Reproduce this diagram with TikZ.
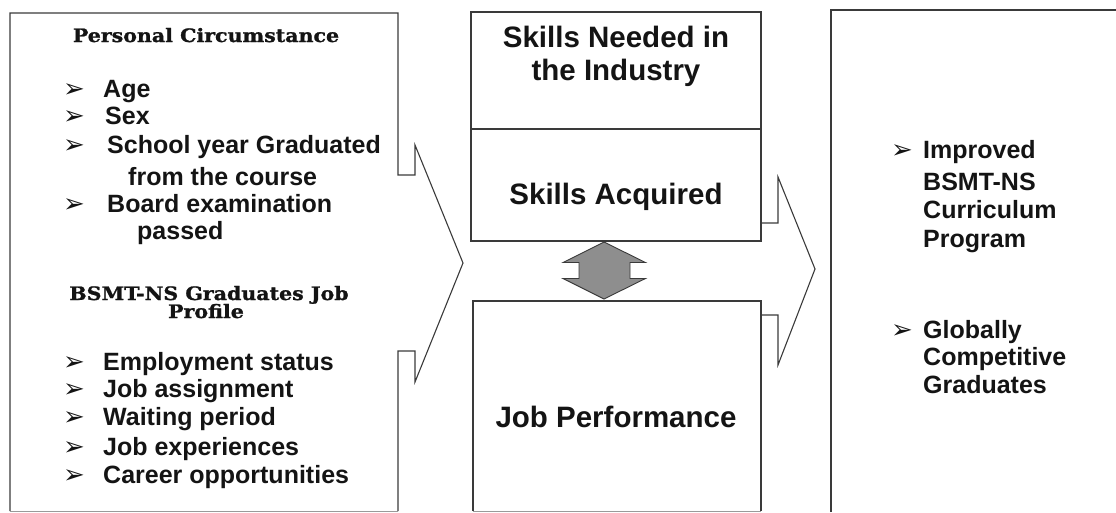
\documentclass[tikz,border=0pt]{standalone}
\usepackage{fontspec}
\setmainfont{Liberation Sans}
\newfontfamily\headfont[FakeStretch=1.11, BoldFeatures={FakeBold=1.2}]{DejaVu Serif}
\newfontfamily\bulletfont{DejaVu Sans}
\definecolor{linegray}{HTML}{3A3A3A}
\definecolor{edgegray}{HTML}{9A9A9A}
\definecolor{arrowfill}{HTML}{8E8E8E}
\definecolor{inktext}{HTML}{141414}
\begin{document}
\begin{tikzpicture}[x=1pt,y=-1pt,
  frame/.style={draw=linegray, line width=1.1pt, line join=miter},
  item/.style={anchor=base west, inner sep=0pt, text=inktext,
    font=\fontsize{25}{29}\selectfont\bfseries},
  bul/.style={anchor=base west, inner sep=0pt, text=inktext,
    font=\bulletfont\fontsize{26}{26}\selectfont},
  head/.style={anchor=base, inner sep=0pt, text=inktext,
    font=\headfont\fontsize{18.5}{20}\selectfont\bfseries},
  midtext/.style={anchor=base, inner sep=0pt, text=inktext,
    font=\fontsize{29.5}{33}\selectfont\bfseries},
]
\useasboundingbox (0,0) rectangle (1116,512);

% ---- input panel with its notched arrow ----
\draw[frame] (10,511) -- (10,13) -- (398,13) -- (398,175) -- (415,175)
  -- (415,145) -- (463,263) -- (415,382) -- (415,351) -- (398,351) -- (398,511);
\draw[edgegray, line width=1pt] (10,511) -- (398,511);

\node[head] (pchead) at (206,42) {Personal Circumstance};
\node[bul] (b1) at (63,97) {➢};
\node[item] (age) at (103,97) {Age};
\node[bul] (b2) at (63,124) {➢};
\node[item] (sex) at (105,124) {Sex};
\node[bul] (b3) at (63,153) {➢};
\node[item] (syg) at (107,153) {School year Graduated};
\node[item] (syg2) at (128,185) {from the course};
\node[bul] (b4) at (63,212) {➢};
\node[item] (board) at (107,212) {Board examination};
\node[item] (board2) at (137,239) {passed};

\node[head] (jphead) at (209,300) {BSMT-NS Graduates Job};
\node[head] (jphead2) at (206,318) {Profile};
\node[bul] (b5) at (63,370) {➢};
\node[item] (emp) at (103,370) {Employment status};
\node[bul] (b6) at (63,397) {➢};
\node[item] (asg) at (103,397) {Job assignment};
\node[bul] (b7) at (63,425) {➢};
\node[item] (wait) at (103,425) {Waiting period};
\node[bul] (b8) at (63,455) {➢};
\node[item] (exp) at (103,455) {Job experiences};
\node[bul] (b9) at (63,483) {➢};
\node[item] (car) at (103,483) {Career opportunities};

% ---- process column ----
\draw[frame] (471,12) rectangle (761,129);
\draw[frame] (471,129) rectangle (761,241);
\draw[frame] (473,511) -- (473,301) -- (761,301) -- (761,511);
\draw[edgegray, line width=1pt] (473,511) -- (761,511);

\node[midtext] (need1) at (616,47) {Skills Needed in};
\node[midtext] (need2) at (616,80) {the Industry};
\node[midtext] (acq) at (616,204) {Skills Acquired};
\node[midtext] (perf) at (616,427) {Job Performance};

% two-way arrow between acquired skills and job performance
\draw[draw=linegray, line width=0.9pt, fill=arrowfill, line join=miter]
  (604,242) -- (645.5,262.5) -- (630,262.5) -- (630,278.5) -- (645.5,278.5)
  -- (604,299) -- (563,278.5) -- (579,278.5) -- (579,262.5) -- (563,262.5) -- cycle;

% notched arrow leading to the output panel
\draw[frame] (761,223) -- (778,223) -- (778,177) -- (815,269) -- (778,365)
  -- (778,315) -- (761,315);

% ---- output panel ----
\draw[frame] (831,512) -- (831,10) -- (1116,10);

\node[bul] (b10) at (891,158) {➢};
\node[item] (imp1) at (923,158) {Improved};
\node[item] (imp2) at (923,190) {BSMT-NS};
\node[item] (imp3) at (923,218) {Curriculum};
\node[item] (imp4) at (923,247) {Program};
\node[bul] (b11) at (891,338) {➢};
\node[item] (glo1) at (923,338) {Globally};
\node[item] (glo2) at (923,365) {Competitive};
\node[item] (glo3) at (923,393) {Graduates};
\end{tikzpicture}
\end{document}
